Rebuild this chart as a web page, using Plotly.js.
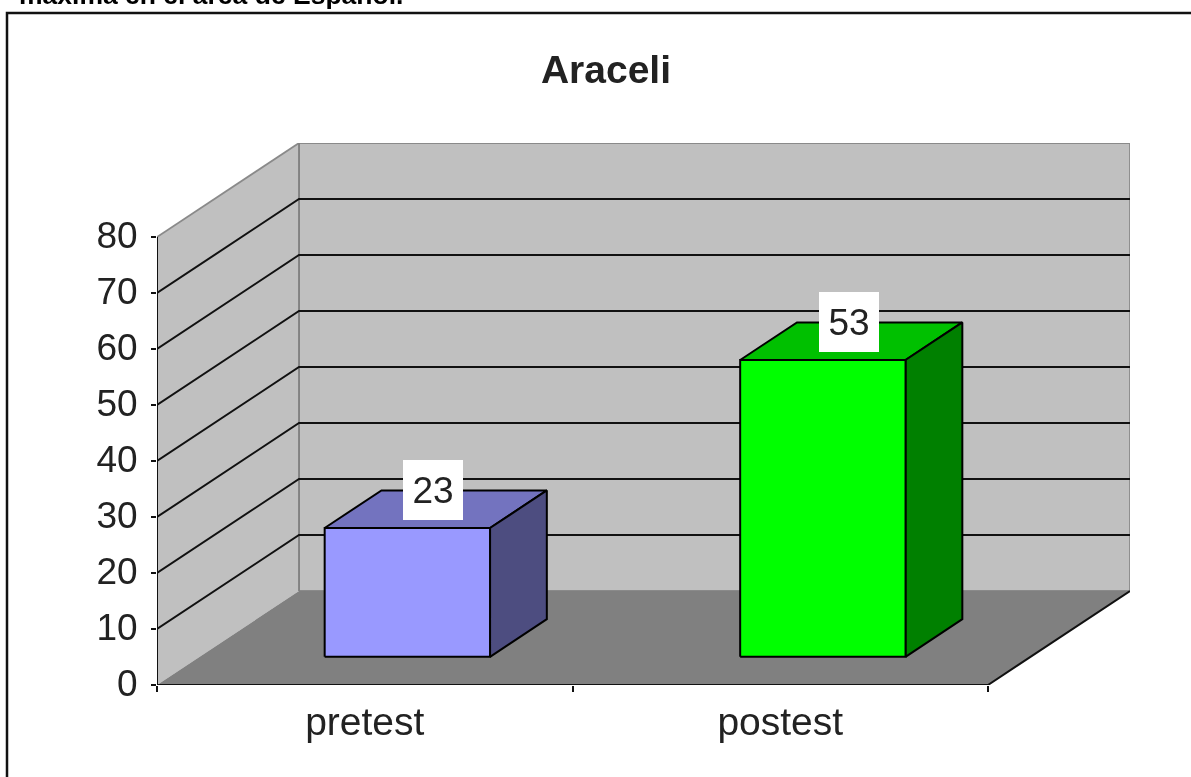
<!DOCTYPE html>
<html><head><meta charset="utf-8">
<script src="https://cdn.plot.ly/plotly-3.0.1.min.js"></script>
<style>html,body{margin:0;padding:0;background:#fff;overflow:hidden}#c{width:1191px;height:777px;filter:blur(0.45px)}</style>
</head><body><div id="c"></div>
<script>
const categories = ['pretest', 'postest'];
const values = [23, 53];
const frontColors = ['#9999FF', '#00FF00'];
const topColors = ['#7373BF', '#00C000'];
const sideColors = ['#4D4D80', '#008000'];
const yTicks = [0, 10, 20, 30, 40, 50, 60, 70, 80];
const headerText = 'máxima en el área de Español.';
const chartTitle = 'Araceli';

const yMax = 80, nCat = categories.length;
const W = 1191, H = 777, L = 157, R = 1130, T = 143, B = 685;
const unitX = (988 - L) / nCat, unitY = (B - 237) / yMax;
const depthX = (R - 988) / unitX, depthY = (B - 591) / unitY;
const BAR_W = 0.398, D0 = 0.30, D1 = 0.70;
const pX = (x, d) => x + d * depthX, pY = (y, d) => y + d * depthY;

function poly(points, fill, line, width) {
  return {
    type: 'scatter', mode: 'lines', cliponaxis: false, hoverinfo: 'skip', showlegend: false,
    x: points.map(p => pX(p[0], p[2])), y: points.map(p => pY(p[1], p[2])),
    fill: fill ? 'toself' : 'none', fillcolor: fill || undefined,
    line: {color: line || 'rgba(0,0,0,0)', width: width === undefined ? 1.5 : width}
  };
}
const data = [];
data.push(poly([[0,0,1],[nCat,0,1],[nCat,yMax,1],[0,yMax,1],[0,0,1]], '#C0C0C0', '#8A8A8A', 1.8));
data.push(poly([[0,0,0],[0,0,1],[0,yMax,1],[0,yMax,0],[0,0,0]], '#C0C0C0', null, 0));
data.push(poly([[0,yMax,0],[0,yMax,1]], null, '#8A8A8A', 1.8));
data.push(poly([[0,0,1],[0,yMax,1]], null, '#808080', 1.8));
data.push(poly([[0,0,0],[nCat,0,0],[nCat,0,1],[0,0,1],[0,0,0]], '#808080', null, 0));
yTicks.filter(t => t > 0 && t < yMax).forEach(t =>
  data.push(poly([[0,t,0],[0,t,1],[nCat,t,1]], null, '#111', 2)));
data.push(poly([[0,yMax,0],[0,0,0],[nCat,0,0],[nCat,0,1]], null, '#111', 2));

values.forEach((v, i) => {
  const a = i + 0.5 - BAR_W / 2, b = i + 0.5 + BAR_W / 2;
  data.push(poly([[a,v,D0],[b,v,D0],[b,v,D1],[a,v,D1],[a,v,D0]], topColors[i], '#000', 2));
  data.push(poly([[b,0,D0],[b,0,D1],[b,v,D1],[b,v,D0],[b,0,D0]], sideColors[i], '#000', 2));
  data.push(poly([[a,0,D0],[b,0,D0],[b,v,D0],[a,v,D0],[a,0,D0]], frontColors[i], '#000', 2));
});

const annotations = values.map((v, i) => ({
  x: pX(i + 0.5, 0.505), y: pY(v, D1), xref: 'x', yref: 'y',
  text: String(v), showarrow: false, xanchor: 'center', yanchor: 'middle',
  xshift: -3, width: 60, height: 60, bgcolor: '#fff', borderpad: 0, borderwidth: 0,
  align: 'center', valign: 'middle',
  font: {family: 'Liberation Sans, Arial, sans-serif', size: 37, color: '#222'}
}));
annotations.push({
  xref: 'paper', yref: 'paper', x: (17 - L) / (R - L), y: (B - 12) / (B - T),
  xanchor: 'left', yanchor: 'bottom', showarrow: false, text: headerText,
  font: {family: 'Liberation Sans, Arial, sans-serif', size: 26.5, weight: 700, color: '#000'}
});

const layout = {
  width: W, height: H, autosize: false,
  paper_bgcolor: '#fff', plot_bgcolor: '#fff',
  margin: {l: L, r: W - R, t: T, b: H - B, pad: 0},
  showlegend: false, hovermode: false,
  title: {text: chartTitle, x: 606 / W, xanchor: 'center', y: 1 - 69 / H, yanchor: 'middle',
    font: {family: 'Liberation Sans, Arial, sans-serif', size: 39, weight: 700, color: '#222'}},
  xaxis: {
    range: [0, nCat + depthX], showgrid: false, zeroline: false, showline: false,
    tickmode: 'array', tickvals: categories.map((c, i) => i + 0.5), ticktext: categories,
    ticks: '', tickangle: 0, ticklabelstandoff: 10,
    tickfont: {family: 'Liberation Sans, Arial, sans-serif', size: 39, color: '#222'},
    minor: {tickmode: 'array', tickvals: categories.map((c, i) => i).concat([nCat]),
      ticks: 'outside', ticklen: 6, tickwidth: 2, tickcolor: '#111', showgrid: false}
  },
  yaxis: {
    range: [0, yMax + depthY], showgrid: false, zeroline: false, showline: false,
    tickmode: 'array', tickvals: yTicks, ticktext: yTicks.map(String),
    ticks: 'outside', ticklen: 5, tickwidth: 2, tickcolor: '#111',
    ticklabelstandoff: 6, ticklabelshift: -2,
    tickfont: {family: 'Liberation Sans, Arial, sans-serif', size: 37, color: '#222'}
  },
  annotations,
  shapes: [{type: 'rect', xref: 'paper', yref: 'paper', layer: 'below',
    x0: (7 - L) / (R - L), x1: (W + 20 - L) / (R - L),
    y0: (B - H - 20) / (B - T), y1: (B - 13) / (B - T),
    line: {color: '#111', width: 2.5}, fillcolor: 'rgba(0,0,0,0)'}]
};
Plotly.newPlot('c', data, layout, {displayModeBar: false, staticPlot: true});
</script></body></html>
